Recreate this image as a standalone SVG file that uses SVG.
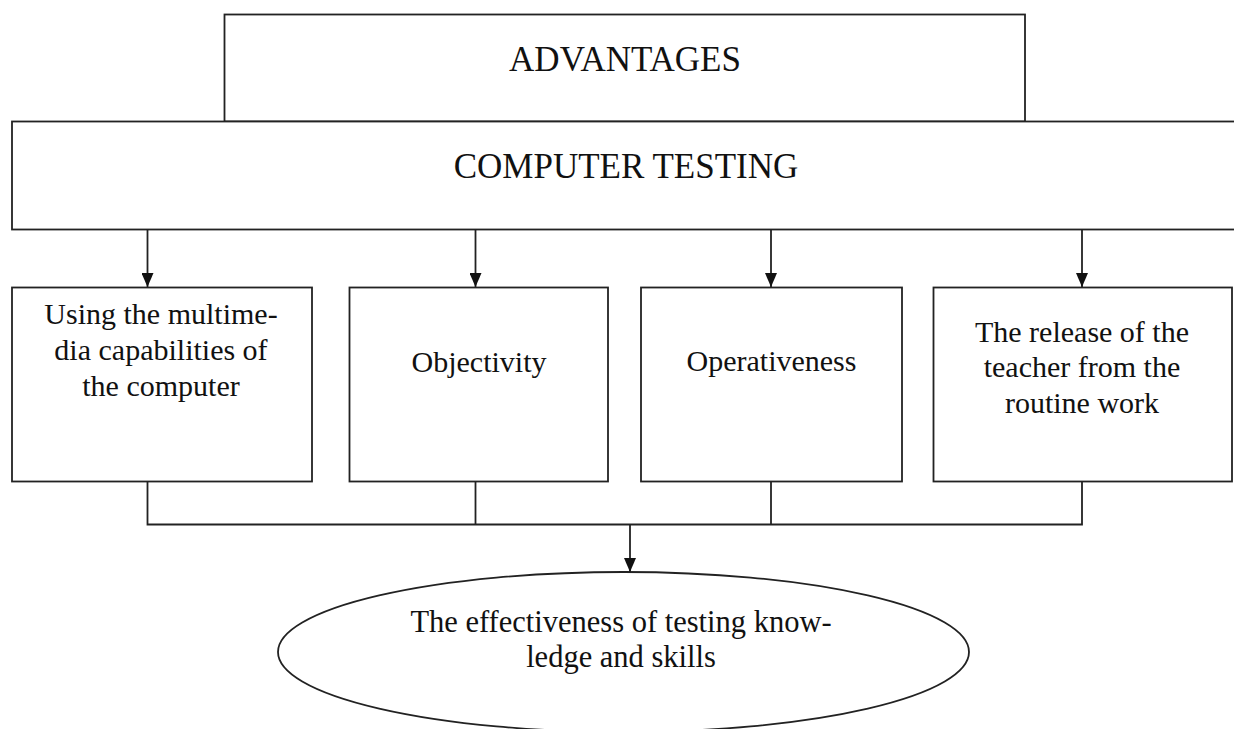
<svg xmlns="http://www.w3.org/2000/svg" width="1234" height="729" viewBox="0 0 1234 729">
<style>
.box{fill:#fff;stroke:#222;stroke-width:1.8}
.ln{fill:none;stroke:#222;stroke-width:1.8}
.t{font-family:"Liberation Serif","Times New Roman",serif;font-size:30px;fill:#111;text-anchor:middle}
.h{font-size:35px}
.e{font-size:30.5px}
</style>
<defs>
<marker id="ah" viewBox="0 0 14 12" refX="14" refY="6" markerWidth="14" markerHeight="12" markerUnits="userSpaceOnUse" orient="auto">
<path d="M0,0 L14,6 L0,12 Z" fill="#111"/>
</marker>
</defs>
<rect width="1234" height="729" fill="#fff"/>
<g id="advantages">
<rect class="box" x="224.5" y="14.5" width="800.5" height="107"/>
<text class="t h" x="625" y="71">ADVANTAGES</text>
</g>
<g id="computer-testing">
<rect class="box" x="12" y="121.5" width="1240" height="108"/>
<text class="t h" x="626" y="178">COMPUTER TESTING</text>
</g>
<g id="multimedia">
<rect class="box" x="12" y="287.5" width="300" height="194"/>
<text class="t" x="161" y="324">Using the multime-</text>
<text class="t" x="161" y="360">dia capabilities  of</text>
<text class="t" x="161" y="396">the  computer</text>
</g>
<g id="objectivity">
<rect class="box" x="349.5" y="287.5" width="258.5" height="194"/>
<text class="t" x="479" y="372">Objectivity</text>
</g>
<g id="operativeness">
<rect class="box" x="641" y="287.5" width="261" height="194"/>
<text class="t" x="771.5" y="371">Operativeness</text>
</g>
<g id="release">
<rect class="box" x="933.5" y="287.5" width="298.5" height="194"/>
<text class="t" x="1082" y="342">The release of the</text>
<text class="t" x="1082" y="377">teacher from the</text>
<text class="t" x="1082" y="413">routine  work</text>
</g>
<g id="effectiveness">
<ellipse class="box" cx="623.5" cy="652" rx="345.5" ry="80"/>
<text class="t e" x="621" y="632">The effectiveness of testing know-</text>
<text class="t e" x="621" y="667">ledge and skills</text>
</g>
<g id="connectors">
<line class="ln" x1="147.5" y1="229.5" x2="147.5" y2="287" marker-end="url(#ah)"/>
<line class="ln" x1="475.5" y1="229.5" x2="475.5" y2="287" marker-end="url(#ah)"/>
<line class="ln" x1="771" y1="229.5" x2="771" y2="287" marker-end="url(#ah)"/>
<line class="ln" x1="1082" y1="229.5" x2="1082" y2="287" marker-end="url(#ah)"/>
<polyline class="ln" points="147.5,481.5 147.5,524.5 1082,524.5 1082,481.5"/>
<line class="ln" x1="475.5" y1="481.5" x2="475.5" y2="524.5"/>
<line class="ln" x1="771" y1="481.5" x2="771" y2="524.5"/>
<line class="ln" x1="630" y1="524.5" x2="630" y2="572" marker-end="url(#ah)"/>
</g>
</svg>
